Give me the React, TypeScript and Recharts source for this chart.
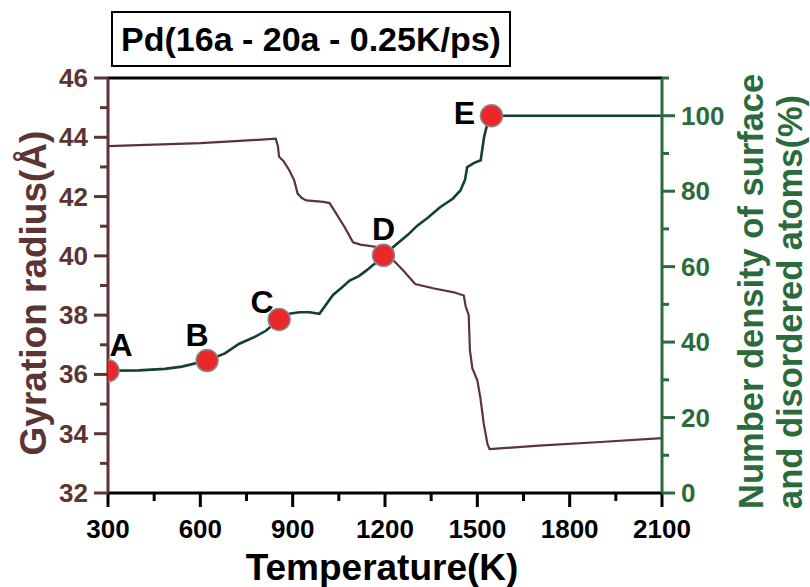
import React from 'react';
import {
  ComposedChart,
  Line,
  Scatter,
  XAxis,
  YAxis,
  ReferenceLine,
  Label,
} from 'recharts';

// Gyration radius (left axis) vs temperature
const radiusTemps = [
  300, 450, 600, 700, 845, 852, 856, 870, 889, 905, 916, 930, 944, 1000, 1020, 1040,
  1070, 1096, 1120, 1173, 1200, 1227, 1260, 1298, 1360, 1424, 1456, 1462, 1472, 1474,
  1476, 1484, 1500, 1510, 1521, 1533, 1540, 1700, 1900, 2100,
];
const radiusValues = [
  43.7, 43.75, 43.8, 43.86, 43.95, 43.7, 43.34, 43.2, 42.89, 42.55, 42.1, 41.95, 41.87,
  41.82, 41.78, 41.45, 40.95, 40.46, 40.38, 40.3, 40.15, 39.85, 39.5, 39.05, 38.9, 38.77,
  38.66, 38.3, 38.0, 37.4, 36.8, 36.2, 35.8, 35.2, 34.33, 33.65, 33.48, 33.6, 33.72, 33.85,
];

// Number density of surface / disordered atoms (right axis)
const densityTemps = [
  300, 400, 485, 540, 622, 680, 725, 780, 813, 856, 889, 922, 955, 987, 1031, 1060, 1085,
  1115, 1140, 1170, 1195, 1249, 1275, 1304, 1340, 1380, 1420, 1445, 1460, 1467, 1490, 1511,
  1522, 1533, 1546, 2100,
];
const densityValues = [
  32.4, 32.5, 32.9, 33.5, 35.1, 37.0, 39.5, 41.5, 43.0, 46.0, 47.5, 47.9, 47.9, 47.5, 52.5,
  54.5, 56.3, 57.5, 59.0, 61.0, 63.0, 66.7, 68.5, 70.8, 73.0, 75.8, 78.0, 80.2, 83.0, 86.4,
  87.5, 88.2, 94.4, 98.0, 100, 100,
];

// marked states A-E
const markerNames = ['A', 'B', 'C', 'D', 'E'];
const markerTemps = [300, 622, 856, 1195, 1546];
const markerValues = [32.4, 35.1, 46.0, 63.0, 100];

const tempTicks = [300, 450, 600, 750, 900, 1050, 1200, 1350, 1500, 1650, 1800, 1950, 2100];
const radiusTicks = [32, 33, 34, 35, 36, 37, 38, 39, 40, 41, 42, 43, 44, 45, 46];
const densityTicks = [0, 10, 20, 30, 40, 50, 60, 70, 80, 90, 100, 110];

const radiusData = radiusTemps.map((t, i) => ({ t, r: radiusValues[i] }));
const densityData = densityTemps.map((t, i) => ({ t, p: densityValues[i] }));
const markerData = markerTemps.map((t, i) => ({ t, p: markerValues[i], name: markerNames[i] }));

const FONT = '"Liberation Sans", Arial, sans-serif';
const BROWN = '#5c3434';
const GREEN = '#2b6b3b';
const CURVE_GREEN = '#133f3a';
const RED = '#e8282a';

const labelOffsets: Record<string, [number, number]> = {
  A: [13, -27],
  B: [-10, -27],
  C: [-17, -18],
  D: [0, -27],
  E: [-27, -4],
};

const BottomTick = (props: any) => {
  const { x, y, payload } = props;
  const major = payload.value % 300 === 0;
  return (
    <g>
      <line x1={x} x2={x} y1={y} y2={y + (major ? 14 : 8)} stroke="#000" strokeWidth={3} />
      {major && (
        <text x={x} y={y + 45} textAnchor="middle" fontSize={26} fontWeight="bold" fill="#000" fontFamily={FONT}>
          {payload.value}
        </text>
      )}
    </g>
  );
};

const LeftTick = (props: any) => {
  const { x, y, payload } = props;
  const major = payload.value % 2 === 0;
  return (
    <g>
      <line x1={x} x2={x - (major ? 14 : 8)} y1={y} y2={y} stroke={BROWN} strokeWidth={3} />
      {major && (
        <text x={x - 20} y={y + 9} textAnchor="end" fontSize={26} fontWeight="bold" fill={BROWN} fontFamily={FONT}>
          {payload.value}
        </text>
      )}
    </g>
  );
};

const RightTick = (props: any) => {
  const { x, y, payload } = props;
  const major = payload.value % 20 === 0 && payload.value <= 100;
  return (
    <g>
      <line x1={x} x2={x + (major ? 13 : 7)} y1={y} y2={y} stroke={GREEN} strokeWidth={3} />
      {major && (
        <text x={x + 19} y={y + 9} textAnchor="start" fontSize={26} fontWeight="bold" fill={GREEN} fontFamily={FONT}>
          {payload.value}
        </text>
      )}
    </g>
  );
};

const MarkerShape = (props: any) => {
  const { cx, cy, payload } = props;
  const [dx, dy] = labelOffsets[payload.name] || [0, -27];
  return (
    <g>
      <circle cx={cx} cy={cy} r={11} fill={RED} stroke="#8a8a8a" strokeWidth={1.5} />
      <text
        x={cx + dx}
        y={cy + dy + 12}
        textAnchor="middle"
        fontSize={32}
        fontWeight="bold"
        fill="#000"
        fontFamily={FONT}
      >
        {payload.name}
      </text>
    </g>
  );
};

export default function App() {
  return (
    <div style={{ position: 'absolute', left: 0, top: 0, width: 810, height: 587, background: '#fff', fontFamily: FONT }}>
      <div
        style={{
          position: 'absolute',
          left: 111,
          top: 11,
          width: 396,
          height: 52,
          border: '2.5px solid #000',
          display: 'flex',
          alignItems: 'center',
          justifyContent: 'center',
          fontSize: 34,
          fontWeight: 'bold',
          color: '#000',
          whiteSpace: 'nowrap',
        }}
      >
        Pd(16a - 20a - 0.25K/ps)
      </div>
      <ComposedChart
        width={810}
        height={587}
        margin={{ top: 78, right: 0, bottom: 0, left: 0 }}
        style={{ position: 'absolute', left: 0, top: 0 }}
      >
        <XAxis
          xAxisId="x"
          dataKey="t"
          type="number"
          domain={[300, 2100]}
          ticks={tempTicks}
          interval={0}
          height={94}
          tickSize={0}
          tickMargin={0}
          tickLine={false}
          axisLine={{ stroke: '#000', strokeWidth: 3 }}
          tick={<BottomTick />}
          allowDataOverflow
        >
          <Label
            content={(p: any) => (
              <text
                x={p.viewBox.x + p.viewBox.width / 2 - 3}
                y={p.viewBox.y + 87}
                textAnchor="middle"
                fontSize={37}
                fontWeight="bold"
                fill="#000"
                fontFamily={FONT}
              >
                Temperature(K)
              </text>
            )}
          />
        </XAxis>
        <YAxis
          yAxisId="left"
          orientation="left"
          type="number"
          domain={[32, 46]}
          ticks={radiusTicks}
          interval={0}
          width={108}
          tickSize={0}
          tickMargin={0}
          tickLine={false}
          axisLine={{ stroke: BROWN, strokeWidth: 3 }}
          tick={<LeftTick />}
          allowDataOverflow
        >
          <Label
            content={(p: any) => {
              const cx = 46;
              const cy = p.viewBox.y + 215;
              return (
                <text
                  x={cx}
                  y={cy}
                  transform={`rotate(-90, ${cx}, ${cy})`}
                  textAnchor="middle"
                  fontSize={37}
                  fontWeight="bold"
                  fill={BROWN}
                  fontFamily={FONT}
                >
                  Gyration radius(Å)
                </text>
              );
            }}
          />
        </YAxis>
        <YAxis
          yAxisId="right"
          orientation="right"
          type="number"
          domain={[0, 110]}
          ticks={densityTicks}
          interval={0}
          width={148}
          tickSize={0}
          tickMargin={0}
          tickLine={false}
          axisLine={{ stroke: GREEN, strokeWidth: 3 }}
          tick={<RightTick />}
          allowDataOverflow
        >
          <Label
            content={() => (
              <g>
                <text
                  x={763}
                  y={509}
                  transform="rotate(-90, 763, 509)"
                  textAnchor="start"
                  fontSize={34.5}
                  fontWeight="bold"
                  fill={GREEN}
                  fontFamily={FONT}
                >
                  Number density of surface
                </text>
                <text
                  x={802}
                  y={509}
                  transform="rotate(-90, 802, 509)"
                  textAnchor="start"
                  fontSize={34.5}
                  fontWeight="bold"
                  fill={GREEN}
                  fontFamily={FONT}
                >
                  and disordered atoms(%)
                </text>
              </g>
            )}
          />
        </YAxis>
        <ReferenceLine xAxisId="x" yAxisId="left" y={46} stroke="#000" strokeWidth={3} />
        <Line
          xAxisId="x"
          yAxisId="left"
          data={radiusData}
          dataKey="r"
          type="linear"
          stroke={BROWN}
          strokeWidth={2.2}
          dot={false}
          activeDot={false}
          isAnimationActive={false}
        />
        <Line
          xAxisId="x"
          yAxisId="right"
          data={densityData}
          dataKey="p"
          type="linear"
          stroke={CURVE_GREEN}
          strokeWidth={2.6}
          dot={false}
          activeDot={false}
          isAnimationActive={false}
        />
        <Scatter
          xAxisId="x"
          yAxisId="right"
          data={markerData}
          dataKey="p"
          shape={<MarkerShape />}
          isAnimationActive={false}
        />
      </ComposedChart>
    </div>
  );
}
